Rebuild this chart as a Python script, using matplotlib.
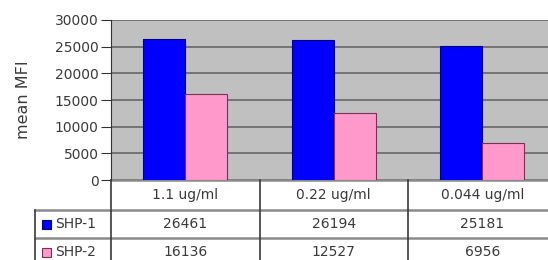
import matplotlib
matplotlib.use('Agg')
import matplotlib.pyplot as plt
import matplotlib.transforms as mtransforms
from matplotlib.patches import Rectangle
import numpy as np

plt.rcParams['font.family'] = ['DejaVu Sans']
plt.rcParams['font.size'] = 10

# data
concentrations = ['1.1 ug/ml', '0.22 ug/ml', '0.044 ug/ml']
series_names = ['SHP-1', 'SHP-2']
shp1 = [26461, 26194, 25181]
shp2 = [16136, 12527, 6956]
colors = ['#0000FF', '#FF99CC']
edges = ['#000080', '#7a3050']

W, H = 548, 260
fig = plt.figure(figsize=(W / 100, H / 100), dpi=100)
# plot area in pixels: x 111..548 (cropped on the right), y 20..180
ax = fig.add_axes([111 / W, (H - 180) / H, (W - 111) / W, 160 / H])
ax.set_facecolor('#C0C0C0')

cat_px = 148.5   # width of one category in pixels
x = np.arange(len(concentrations))
width = 0.283
ax.bar(x - width / 2, shp1, width, color=colors[0], edgecolor=edges[0], linewidth=0.8, zorder=3)
ax.bar(x + width / 2, shp2, width, color=colors[1], edgecolor=edges[1], linewidth=0.8, zorder=3)

ax.set_ylim(0, 30000)
ax.set_yticks(np.arange(0, 30001, 5000))
right = -0.5 + (W - 111) / cat_px
ax.set_xlim(-0.5, right)
ax.set_xticks([])
ax.grid(True, axis='y', color='#6e6e6e', linewidth=1.3, zorder=1)
for s in ['top', 'right', 'bottom']:
    ax.spines[s].set_visible(False)
ax.spines['left'].set_color('#333333')
ax.tick_params(axis='y', length=7, color='#333333', labelsize=10, labelcolor='#3a3a3a', pad=2)
ax.set_ylabel('mean MFI', fontsize=11.5, color='#3a3a3a')
ax.yaxis.set_label_coords(-80 / (W - 111), 0.5)

# data table under the plot
tr = mtransforms.blended_transform_factory(ax.transData, ax.transAxes)
px = 160.0  # axes height in pixels
row_y = [0, -30 / px, -58 / px, -86 / px]   # row boundaries
key_left = -0.5 - (111 - 35) / cat_px

hline_kw = dict(color='#8a8a8a', linewidth=1.8, transform=tr, clip_on=False)
ax.plot([-0.5, right], [row_y[0], row_y[0]], **hline_kw)
ax.plot([key_left, right], [row_y[1], row_y[1]], **hline_kw)
ax.plot([key_left, right], [row_y[2], row_y[2]], **hline_kw)
vline_kw = dict(color='#3a3a3a', linewidth=1.2, transform=tr, clip_on=False)
for b in [-0.5, 0.5, 1.5]:
    ax.plot([b, b], [row_y[0], row_y[3]], **vline_kw)
ax.plot([key_left, key_left], [row_y[1], row_y[3]], **vline_kw)

txt_kw = dict(transform=tr, ha='center', va='center', fontsize=10, color='#3a3a3a', clip_on=False)
for i, c in enumerate(concentrations):
    ax.text(i, (row_y[0] + row_y[1]) / 2, c, **txt_kw)
for r, vals in enumerate([shp1, shp2]):
    yc = (row_y[r + 1] + row_y[r + 2]) / 2
    for i, v in enumerate(vals):
        ax.text(i, yc, str(v), **txt_kw)
    # legend key + series name
    kx = key_left + 7 / cat_px
    ax.add_patch(Rectangle((kx, yc - 4.5 / px), 9 / cat_px, 9 / px, transform=tr,
                           facecolor=colors[r], edgecolor=edges[r], linewidth=0.8, clip_on=False))
    ax.text(kx + 13 / cat_px, yc, series_names[r], transform=tr, ha='left', va='center',
            fontsize=10, color='#3a3a3a', clip_on=False)

fig.savefig('out.png', dpi=100)
